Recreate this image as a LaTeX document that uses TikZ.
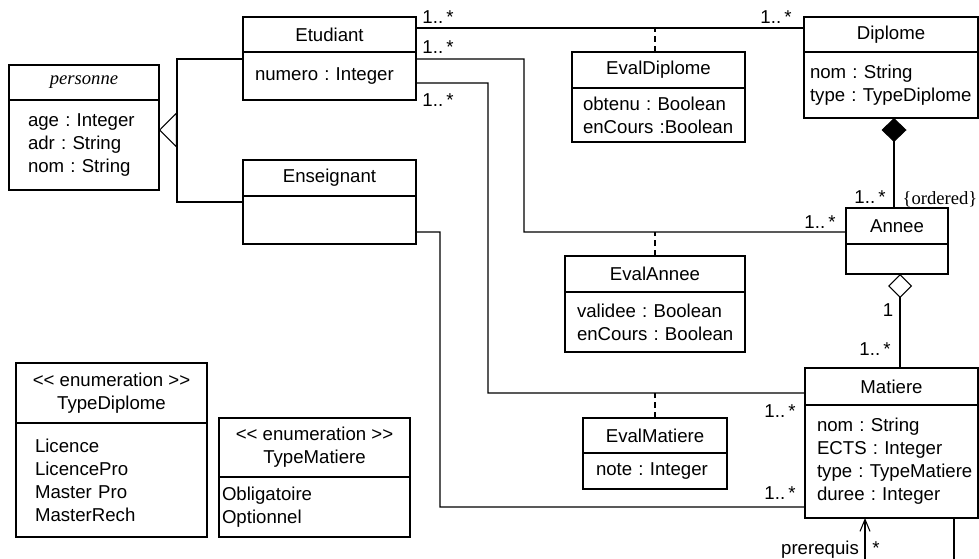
\documentclass[tikz,border=0pt]{standalone}
\usepackage{fontspec}
\setmainfont{Liberation Sans}
\newfontfamily\serifrm{Liberation Serif}
\usetikzlibrary{arrows.meta}
\newcommand\umlfont{\fontsize{10.6}{13.1}\selectfont\frenchspacing\hyphenpenalty=10000\relax}
\tikzset{
  hdr/.style={draw, anchor=north west, inner sep=0pt, outer sep=0pt, align=center},
  bdy/.style={draw, anchor=north west, inner ysep=0pt, outer sep=0pt, align=left},
  mult/.style={inner sep=0.5mm},
  assoc/.style={dash pattern=on 1.2mm off 0.8mm},
}

\begin{document}
\begin{tikzpicture}[x=0.2mm, y=-0.2mm, font=\umlfont, line width=0.6pt]
  \useasboundingbox (0,0) rectangle (979,558);

  % classes
  \node[hdr, minimum width=30mm, minimum height=7mm] (pers-h) at (9,65) {\serifrm\itshape personne};
  \node[bdy, minimum height=18mm, text width=22.4mm, inner xsep=3.8mm] (pers-b) at (pers-h.south west)
    {age : Integer\\adr : String\\nom : String};
  \node[hdr, minimum width=34.6mm, minimum height=7mm] (etu-h) at (243,17) {Etudiant};
  \node[bdy, minimum height=9.6mm, text width=29.8mm, inner xsep=2.4mm] (etu-b) at (etu-h.south west)
    {numero : Integer};
  \node[hdr, minimum width=34.6mm, minimum height=7.2mm] (ens-h) at (243,160) {Enseignant};
  \node[bdy, minimum width=34.6mm, minimum height=9.6mm] (ens-b) at (ens-h.south west) {};
  \node[hdr, minimum width=34.8mm, minimum height=7mm] (dip-h) at (804,17) {Diplome};
  \node[bdy, minimum height=13.2mm, text width=32.4mm, inner xsep=1.2mm] (dip-b) at (dip-h.south west)
    {nom : String\\\mbox{type : TypeDiplome}};
  \node[hdr, minimum width=20.4mm, minimum height=7.2mm] (ann-h) at (846,208) {Annee};
  \node[bdy, minimum width=20.4mm, minimum height=6mm] (ann-b) at (ann-h.south west) {};
  \node[hdr, minimum width=34.6mm, minimum height=7.4mm] (mat-h) at (805,368) {Matiere};
  \node[bdy, minimum height=22.6mm, text width=29.8mm, inner xsep=2.4mm] (mat-b) at (mat-h.south west)
    {nom : String\\ECTS : Integer\\\mbox{type : TypeMatiere}\\duree : Integer};

  % association classes
  \node[hdr, minimum width=34.6mm, minimum height=7.2mm] (evd-h) at (572,52) {EvalDiplome};
  \node[bdy, minimum height=10.8mm, text width=30.2mm, inner xsep=2.2mm] (evd-b) at (evd-h.south west)
    {obtenu : Boolean\\\mbox{enCours :Boolean}};
  \node[hdr, minimum width=36mm, minimum height=7.2mm] (eva-h) at (565,256) {EvalAnnee};
  \node[bdy, minimum height=12mm, text width=31.2mm, inner xsep=2.4mm] (eva-b) at (eva-h.south west)
    {validee : Boolean\\\mbox{enCours : Boolean}};
  \node[hdr, minimum width=28.8mm, minimum height=7mm] (evm-h) at (583,418) {EvalMatiere};
  \node[bdy, minimum height=7.2mm, text width=23.6mm, inner xsep=2.6mm] (evm-b) at (evm-h.south west)
    {note : Integer};

  % enumerations
  \node[hdr, minimum width=38.2mm, minimum height=12mm] (tdip-h) at (16,363)
    {<\kern0pt< enumeration >\kern0pt>\\TypeDiplome};
  \node[bdy, minimum height=22.8mm, text width=30.6mm, inner xsep=3.8mm] (tdip-b) at (tdip-h.south west)
    {Licence\\LicencePro\\Master Pro\\MasterRech};
  \node[hdr, minimum width=38.2mm, minimum height=11.8mm] (tmat-h) at (219,418)
    {<\kern0pt< enumeration >\kern0pt>\\TypeMatiere};
  \node[bdy, minimum height=12mm, text width=37mm, inner xsep=0.6mm] (tmat-b) at (tmat-h.south west)
    {Obligatoire\\Optionnel};

  % inheritance
  \coordinate (gen) at (177,130);
  \draw ([yshift=-1.4mm]etu-b.north west) -| (gen) |- ([yshift=-1.2mm]ens-b.north west);
  \draw[-{Triangle[open,length=3.6mm,width=7.2mm]}] (gen) -- (gen -| pers-b.east);

  % associations
  \draw ([yshift=-2.2mm]etu-h.north east) -- ([yshift=-2.2mm]dip-h.north west);
  \draw ([yshift=-1.4mm]etu-b.north east) -| (524,232) -- ([yshift=-1.2mm]ann-h.west);
  \draw ([yshift=3.4mm]etu-b.south east) -| (488,393) -- ([yshift=-1.3mm]mat-h.west);
  \draw ([yshift=-2.4mm]ens-b.east) -| (440,507) -- ([yshift=-9.1mm]mat-b.west);
  \draw[assoc] ([xshift=-0.7mm]evd-h.north) -- ++(0,-24);
  \draw[assoc] (eva-h.north) -- ++(0,-24);
  \draw[assoc] (evm-h.north) -- ++(0,-25);

  % composition and aggregation
  \coordinate (cmp) at ([xshift=-0.6mm]ann-h.north);
  \draw[-{Diamond[length=4.8mm,width=5mm]}] (cmp) -- (cmp |- dip-b.south);
  \coordinate (agg) at ([xshift=0.6mm]ann-b.south);
  \draw[-{Diamond[open,length=4.8mm,width=4.8mm]}] (agg |- mat-h.north) -- (agg);

  % prerequis (self association)
  \coordinate (pq1) at (865,562);
  \coordinate (pq2) at (954,562);
  \draw[-{Straight Barb[length=2.4mm,width=2mm]}] (pq1) -- (pq1 |- mat-b.south);
  \draw (mat-b.south -| pq2) -- (pq2);

  % multiplicities
  \node[mult] (m-ed1) at (438,17) {1..\,*};
  \node[mult] (m-ed2) at (776,17) {1..\,*};
  \node[mult] (m-ea1) at (438,47) {1..\,*};
  \node[mult] (m-ea2) at (820,222) {1..\,*};
  \node[mult] (m-em1) at (438,100) {1..\,*};
  \node[mult] (m-em2) at (780,411) {1..\,*};
  \node[mult] (m-nm) at (780,493) {1..\,*};
  \node[mult] (m-cmp) at (870,197) {1..\,*};
  \node[mult, anchor=base] (ord) at (940,204) {\serifrm\{ordered\}};
  \node[mult] (m-agg1) at (888,310) {1};
  \node[mult] (m-agg2) at (875,349) {1..\,*};
  \node[mult, anchor=base] (preq) at (820,554) {prerequis};
  \node[mult, anchor=base] (m-preq) at (876,554) {*};
\end{tikzpicture}
\end{document}
